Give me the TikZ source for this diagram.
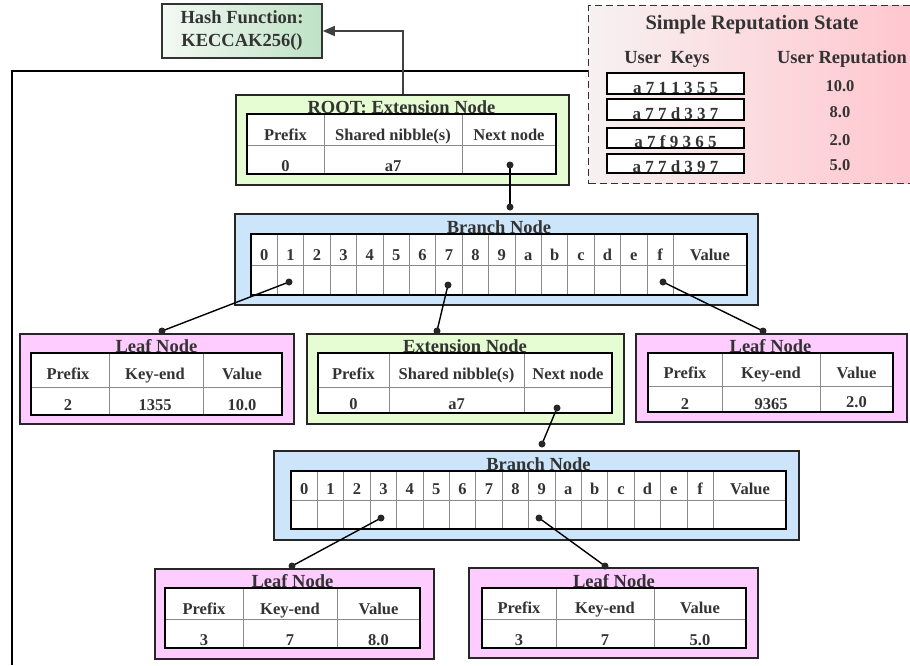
\documentclass[tikz,border=0pt]{standalone}
\usepackage{fontspec}
\setmainfont{Liberation Serif}
\usetikzlibrary{arrows.meta,positioning}
\definecolor{extfill}{HTML}{E6FCD2}
\definecolor{brfill}{HTML}{CCE5FA}
\definecolor{leaffill}{HTML}{FFCCFF}
\definecolor{hashL}{HTML}{F3F9F3}
\definecolor{hashR}{HTML}{BEE2C5}
\definecolor{repL}{HTML}{F7F1F1}
\definecolor{repR}{HTML}{FFC6CE}
\definecolor{txtgray}{HTML}{333333}
\definecolor{gridgray}{HTML}{8A8A8A}
\newcommand{\titlesize}{\fontsize{18.5}{23}\selectfont\bfseries}
\newcommand{\cellsize}{\fontsize{16.5}{18}\selectfont\bfseries}

\begin{document}
\begin{tikzpicture}[x=1pt,y=-1pt,
	nodebox/.style={draw=black!85,line width=1.6pt,anchor=north west,inner sep=0pt},
	ttl/.style={font=\titlesize,text=txtgray,inner sep=0pt,anchor=base},
	cell/.style={font=\cellsize,text=txtgray,inner sep=0pt,anchor=base},
	keytxt/.style={font=\fontsize{17}{18}\selectfont\bfseries,text=txtgray,inner sep=0pt,anchor=base},
	tabframe/.style={draw=black,line width=1.5pt},
	tabgrid/.style={draw=gridgray,line width=0.8pt},
	link/.style={line width=1.4pt,black},
	dot/.style={fill=black!85}]
	
	\useasboundingbox (0,0) rectangle (910,665);
	
	% outer frame
	\draw[line width=1.5pt] (12,665) -- (12,71) -- (588,71);
	
	% hash function
	\node[draw=black!80,line width=1.6pt,left color=hashL,right color=hashR,minimum width=160pt,minimum height=54pt,inner sep=0pt,align=center,font=\titlesize,text=txtgray] (hash) at (242,31) {Hash Function:\\KECCAK256()};
	
	% reputation state
	\node[nodebox,draw=black!80,line width=1.3pt,dash pattern=on 7pt off 4pt,left color=repL,right color=repR,minimum width=330pt,minimum height=178pt] (rep) at (588,5) {};
	\node[ttl,font={\fontsize{20.5}{22}\selectfont\bfseries}] (reptitle) at (752,29) {Simple Reputation State};
	\node[ttl] (repkeys) at (667,63) {User\ \ Keys};
	\node[ttl] (repvals) at (842,63) {User Reputation};
	\foreach \k/\v/\t/\b [count=\i] in {a 7 1 1 3 5 5/10.0/73/94, a 7 7 d 3 3 7/8.0/99/120, a 7 f 9 3 6 5/2.0/128/148, a 7 7 d 3 9 7/5.0/154/173}{
		\draw[line width=1.4pt,fill=white] (607,\t) rectangle (744,\b);
		\node[keytxt] (key\i) at (675.5,\b-0.5) {\k};
		\node[cell] (val\i) at (840,\b-3) {\v};
	}
	
	% root extension node
	\node[nodebox,fill=extfill,minimum width=333pt,minimum height=90pt] (root) at (235,94) {};
	\node[ttl] (roottitle) at (401.5,113) {ROOT: Extension Node};
	\fill[white] (247,114) rectangle (556,174);
	\draw[tabgrid] (247,145) -- (556,145) (324,114) -- (324,174) (462,114) -- (462,174);
	\draw[tabframe] (247,114) rectangle (556,174);
	\node[cell] (rootpre) at (285.5,140) {Prefix};
	\node[cell] (rootnib) at (393,140) {Shared nibble(s)};
	\node[cell] (rootnxt) at (509,140) {Next node};
	\node[cell] (rootpv) at (285.5,171) {0};
	\node[cell] (rootnv) at (393,171) {a7};
	\coordinate (rootdot) at (510,165);
	\coordinate (roothash) at (403,94);
	
	% first branch node
	\node[nodebox,fill=brfill,minimum width=523pt,minimum height=91pt] (brA) at (234,213) {};
	\node[ttl] (brAtitle) at (499,233) {Branch Node};
	\fill[white] (251,234) rectangle (747,295);
	\foreach \i in {1,...,16} \draw[tabgrid] ({251+26.4*\i},234) -- ({251+26.4*\i},295);
	\draw[tabgrid] (251,265) -- (747,265);
	\draw[tabframe] (251,234) rectangle (747,295);
	\foreach \d [count=\i from 0] in {0,1,2,3,4,5,6,7,8,9,a,b,c,d,e,f}
		\node[cell] (brAc\i) at ({264.2+26.4*\i},260) {\d};
	\node[cell] (brAval) at (710,260) {Value};
	\coordinate (brAtop) at (510,207);
	\coordinate (brAone) at (289,282);
	\coordinate (brAseven) at (448,285);
	\coordinate (brAf) at (663,282);
	
	% leaf node 1355
	\node[nodebox,fill=leaffill,minimum width=274pt,minimum height=90pt] (leafA) at (19,333) {};
	\node[ttl] (leafAtitle) at (156.5,352) {Leaf Node};
	\fill[white] (31,353) rectangle (282,415);
	\draw[tabgrid] (31,387) -- (282,387) (109,353) -- (109,415) (203,353) -- (203,415);
	\draw[tabframe] (31,353) rectangle (282,415);
	\node[cell] (leafApre) at (68,379) {Prefix};
	\node[cell] (leafAkey) at (155,379) {Key-end};
	\node[cell] (leafAval) at (242,379) {Value};
	\node[cell] (leafApv) at (68,410) {2};
	\node[cell] (leafAkv) at (155,410) {1355};
	\node[cell] (leafAvv) at (242,410) {10.0};
	\coordinate (leafAtop) at (162,331);
	
	% extension node
	\node[nodebox,fill=extfill,minimum width=317pt,minimum height=90pt] (ext) at (306,333) {};
	\node[ttl] (exttitle) at (465,352) {Extension Node};
	\fill[white] (318,353) rectangle (612,413);
	\draw[tabgrid] (318,387) -- (612,387) (389,353) -- (389,413) (524,353) -- (524,413);
	\draw[tabframe] (318,353) rectangle (612,413);
	\node[cell] (extpre) at (353.5,379) {Prefix};
	\node[cell] (extnib) at (456.5,379) {Shared nibble(s)};
	\node[cell] (extnxt) at (568,379) {Next node};
	\node[cell] (extpv) at (353.5,409) {0};
	\node[cell] (extnv) at (456.5,409) {a7};
	\coordinate (exttop) at (437,331);
	\coordinate (extdot) at (557,408);
	
	% leaf node 9365
	\node[nodebox,fill=leaffill,minimum width=271pt,minimum height=88pt] (leafB) at (635,333) {};
	\node[ttl] (leafBtitle) at (770.5,352) {Leaf Node};
	\fill[white] (648,353) rectangle (893,412);
	\draw[tabgrid] (648,386) -- (893,386) (722,353) -- (722,412) (820,353) -- (820,412);
	\draw[tabframe] (648,353) rectangle (893,412);
	\node[cell] (leafBpre) at (685,378) {Prefix};
	\node[cell] (leafBkey) at (771,378) {Key-end};
	\node[cell] (leafBval) at (856.5,378) {Value};
	\node[cell] (leafBpv) at (685,409) {2};
	\node[cell] (leafBkv) at (771,409) {9365};
	\node[cell] (leafBvv) at (856.5,407) {2.0};
	\coordinate (leafBtop) at (763,331);
	
	% second branch node
	\node[nodebox,fill=brfill,minimum width=525pt,minimum height=89pt] (brB) at (273,450) {};
	\node[ttl] (brBtitle) at (538.5,470) {Branch Node};
	\fill[white] (291,471) rectangle (786,529);
	\foreach \i in {1,...,16} \draw[tabgrid] ({291+26.4*\i},471) -- ({291+26.4*\i},529);
	\draw[tabgrid] (291,500) -- (786,500);
	\draw[tabframe] (291,471) rectangle (786,529);
	\foreach \d [count=\i from 0] in {0,1,2,3,4,5,6,7,8,9,a,b,c,d,e,f}
		\node[cell] (brBc\i) at ({304.2+26.4*\i},494) {\d};
	\node[cell] (brBval) at (750,494) {Value};
	\coordinate (brBtop) at (542,444);
	\coordinate (brBthree) at (381,518);
	\coordinate (brBnine) at (539,518);
	
	% leaf node 337
	\node[nodebox,fill=leaffill,minimum width=279pt,minimum height=90pt] (leafC) at (154,568) {};
	\node[ttl] (leafCtitle) at (292.5,587) {Leaf Node};
	\fill[white] (165,588) rectangle (420,648);
	\draw[tabgrid] (165,619) -- (420,619) (243,588) -- (243,648) (337,588) -- (337,648);
	\draw[tabframe] (165,588) rectangle (420,648);
	\node[cell] (leafCpre) at (204,614) {Prefix};
	\node[cell] (leafCkey) at (290,614) {Key-end};
	\node[cell] (leafCval) at (378.5,614) {Value};
	\node[cell] (leafCpv) at (204,645) {3};
	\node[cell] (leafCkv) at (290,645) {7};
	\node[cell] (leafCvv) at (378.5,645) {8.0};
	\coordinate (leafCtop) at (292,566);
	
	% leaf node 397
	\node[nodebox,fill=leaffill,minimum width=289pt,minimum height=90pt] (leafD) at (468,567) {};
	\node[ttl] (leafDtitle) at (614,587) {Leaf Node};
	\fill[white] (482,588) rectangle (746,648);
	\draw[tabgrid] (482,619) -- (746,619) (556,588) -- (556,648) (654,588) -- (654,648);
	\draw[tabframe] (482,588) rectangle (746,648);
	\node[cell] (leafDpre) at (519,613) {Prefix};
	\node[cell] (leafDkey) at (605,613) {Key-end};
	\node[cell] (leafDval) at (700,613) {Value};
	\node[cell] (leafDpv) at (519,645) {3};
	\node[cell] (leafDkv) at (605,645) {7};
	\node[cell] (leafDvv) at (700,645) {5.0};
	\coordinate (leafDtop) at (605,566);
	
	% links
	\draw[-{Triangle[length=12pt,width=10pt]},line width=1.3pt,black!75] (roothash) |- (hash.east);
	\draw[link] (rootdot) -- (brAtop);
	\draw[link] (brAone) -- (leafAtop);
	\draw[link] (brAseven) -- (exttop);
	\draw[link] (brAf) -- (leafBtop);
	\draw[link] (extdot) -- (brBtop);
	\draw[link] (brBthree) -- (leafCtop);
	\draw[link] (brBnine) -- (leafDtop);
	\foreach \c in {rootdot,brAtop,brAone,brAseven,brAf,leafAtop,exttop,leafBtop,extdot,brBtop,brBthree,brBnine,leafCtop,leafDtop}
		\fill[dot] (\c) circle (3.5);
	
\end{tikzpicture}
\end{document}
